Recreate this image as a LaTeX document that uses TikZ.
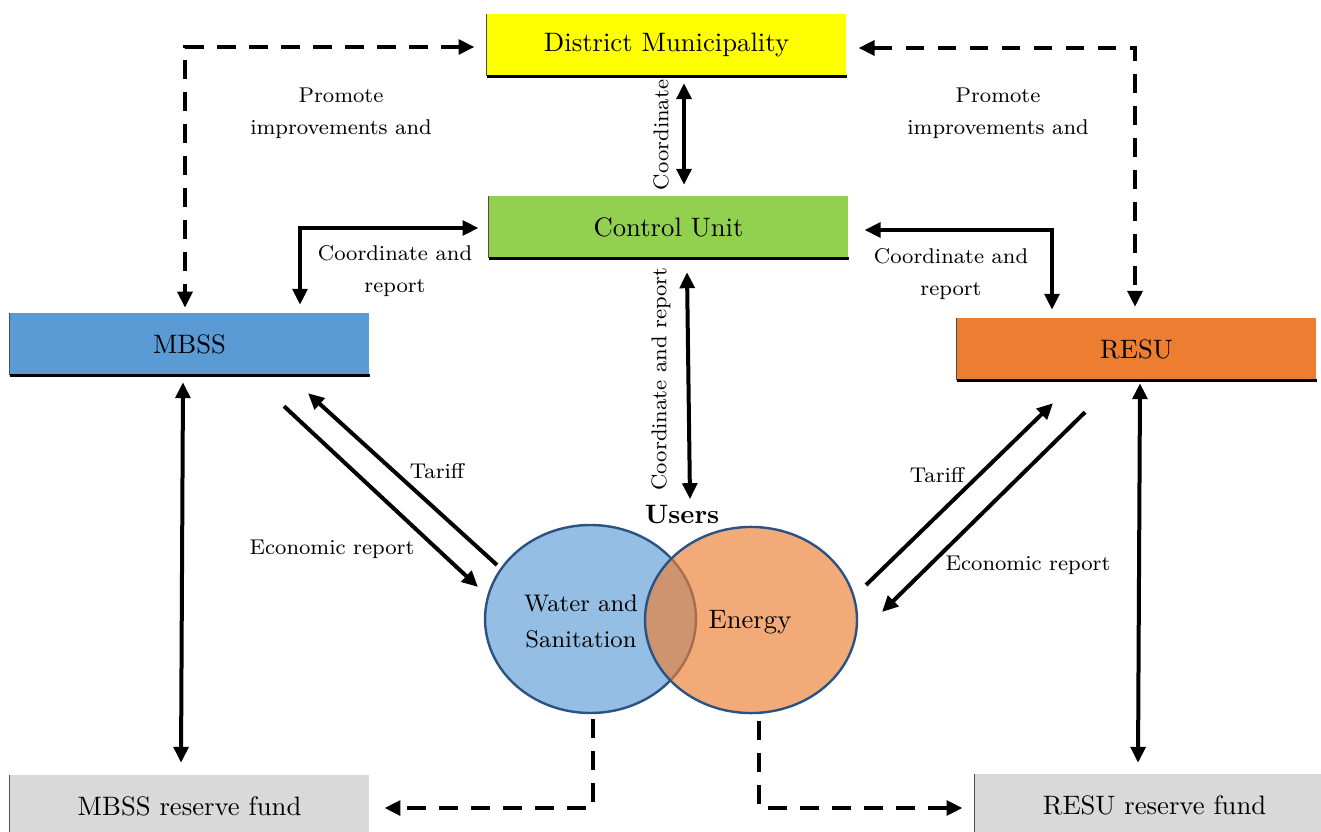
\documentclass[tikz,border=0pt]{standalone}
\usetikzlibrary{arrows.meta,calc,shapes.geometric}
\definecolor{dmyellow}{HTML}{FFFF00}
\definecolor{cugreen}{HTML}{92D050}
\definecolor{mbblue}{HTML}{5B9BD5}
\definecolor{reorange}{HTML}{ED7D31}
\definecolor{fundgray}{HTML}{D9D9D9}
\definecolor{ellborder}{HTML}{2A5283}
\begin{document}
\begin{tikzpicture}[x=0.375pt,y=-0.375pt,
  >={Triangle[length=6pt,width=5.5pt]},
  box/.style={rectangle,inner sep=0pt,minimum width=134.6pt,minimum height=23pt,font=\normalsize},
  conn/.style={line width=1.5pt},
  dconn/.style={line width=1.5pt,dash pattern=on 7pt off 5pt},
  lbl/.style={font=\footnotesize,align=center,inner sep=0pt},
  venn/.style={ellipse,draw=ellborder,line width=0.9pt,fill opacity=0.65,draw opacity=1,inner sep=0pt},
]
\useasboundingbox (0,0) rectangle (1321,832);
\clip (0,0) rectangle (1321,832);

% boxes
\node[box,fill=dmyellow] (dm) at (666.5,45) {District Municipality};
\node[box,fill=cugreen] (cu) at (668.5,227) {Control Unit};
\node[box,fill=mbblue] (mbss) at (189.5,344) {MBSS};
\node[box,fill=reorange] (resu) at (1136.5,349) {RESU};
\node[box,fill=fundgray] (mfund) at (189.5,806) {MBSS reserve fund};
\node[box,fill=fundgray] (rfund) at (1154.5,805) {RESU reserve fund};
\foreach \n in {dm,cu,mbss,resu,mfund,rfund}{
  \draw[gray!60!black,line width=0.4pt] (\n.south west) -- (\n.north west);}
\foreach \n in {dm,cu,mbss,resu}{
  \draw[line width=1.1pt] (\n.south west) -- (\n.south east);}

% Venn
\node[venn,fill=mbblue,minimum width=79.1pt,minimum height=70.5pt] (ws) at (590.5,619) {};
\node[venn,fill=reorange,minimum width=79.5pt,minimum height=69.8pt] (en) at (751,620) {};
\node[font=\small,align=center,inner sep=0pt] (wstext) at (581,621) {Water and\\[2.5pt]Sanitation};
\node[font=\normalsize,inner sep=0pt] (entext) at (750,622) {Energy};
\node[font=\normalsize\bfseries,inner sep=0pt] (users) at (682,515) {Users};

% bend coordinates
\coordinate (c1) at (185,47);
\coordinate (c2) at (1135,48);
\coordinate (c3) at (300,228);
\coordinate (c4) at (1052,230);
\coordinate (c5) at (684,0);
\coordinate (c13) at (593,808);
\coordinate (c14) at (759,808);

% dashed promote connectors
\draw[dconn,<->,shorten <=4.5pt,shorten >=1.9pt] (dm.west |- c1) -- (c1) -- (mbss.north -| c1);
\draw[dconn,<->,shorten <=4.5pt,shorten >=4.1pt] (dm.east |- c2) -- (c2) -- (resu.north -| c2);

% coordinate and report
\draw[conn,<->,shorten <=3.75pt,shorten >=3pt] (cu.west |- c3) -- (c3) -- (mbss.north -| c3);
\draw[conn,<->,shorten <=6pt,shorten >=3pt] (cu.east |- c4) -- (c4) -- (resu.north -| c4);

% vertical
\draw[conn,<->,shorten <=2.6pt,shorten >=4.1pt] (dm.south -| c5) -- (cu.north -| c5);
\draw[conn,<->] ($(cu.south)+(18.5,14)$) -- ($(users.north)+(8,-6)$);
\draw[conn,<->] ($(mbss.south)+(-6.5,7)$) -- ($(mfund.north)+(-8.5,-12)$);
\draw[conn,<->] ($(resu.south)+(3.5,3)$) -- ($(rfund.north)+(-16.5,-11)$);

% diagonals
\draw[conn,->] ($(mbss.south)+(94.5,31)$) -- ($(ws.center)+(-112.5,-32)$);
\draw[conn,->] ($(ws.center)+(-93.5,-54)$) -- ($(mbss.south)+(118.5,18)$);
\draw[conn,->] ($(en.center)+(115,-35)$) -- ($(resu.south)+(-83.5,23)$);
\draw[conn,->] ($(resu.south)+(-51.5,32)$) -- ($(en.center)+(131,-8)$);

% bottom dashed
\draw[dconn,->,shorten >=5.6pt] ($(ws.south)+(2.5,5)$) -- (c13) -- (mfund.east |- c13);
\draw[dconn,->,shorten >=4.5pt] ($(en.south)+(8,7)$) -- (c14) -- (rfund.west |- c14);

% labels
\node[lbl] (lp1) at (341,113) {Promote\\[2.5pt]improvements and};
\node[lbl] (lp2) at (998,113) {Promote\\[2.5pt]improvements and};
\node[lbl] (lc2) at (395,271) {Coordinate and\\[2.5pt]report};
\node[lbl] (lc3) at (951,274) {Coordinate and\\[2.5pt]report};
\node[lbl,rotate=90] (lc1) at (661,135) {Coordinate};
\node[lbl,rotate=90] (lc4) at (661,379) {Coordinate and report};
\node[lbl] (lt1) at (437,471) {Tariff};
\node[lbl] (lt2) at (937,475) {Tariff};
\node[lbl] (le1) at (332,549) {Economic report};
\node[lbl] (le2) at (1028,565) {Economic report};
\end{tikzpicture}
\end{document}
